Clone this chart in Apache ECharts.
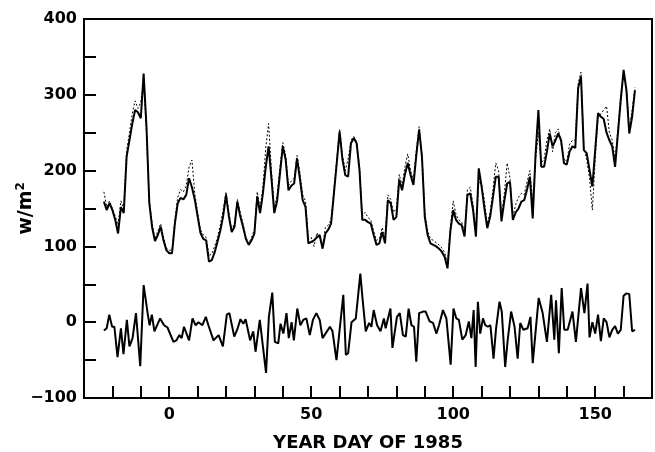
<!DOCTYPE html>
<html>
<head>
<meta charset="utf-8">
<script src="https://cdn.jsdelivr.net/npm/echarts@6/dist/echarts.min.js"></script>
<style>
  html, body { margin: 0; padding: 0; background: #fff; }
  #chart { width: 655px; height: 452px; }
</style>
</head>
<body>
<div id="chart"></div>
<script>
// Daily flux, year day -23 .. 164 of 1985
const dayStart = -23;
const fluxSolid = [
  159, 148, 157, 148, 135, 117, 152, 144, 218, 240, 262, 280, 277, 269, 328, 258, 157, 125, 107, 115,
  126, 108, 95, 91, 91, 130, 157, 164, 162, 168, 190, 178, 162, 140, 118, 110, 108, 80, 82, 92,
  106, 121, 140, 168, 140, 119, 126, 159, 140, 126, 110, 102, 108, 117, 166, 144, 170, 205, 232, 190,
  144, 160, 196, 232, 215, 174, 180, 183, 216, 190, 161, 152, 104, 106, 108, 112, 115, 97, 117, 122,
  130, 170, 210, 251, 215, 194, 192, 236, 243, 236, 201, 135, 135, 132, 130, 115, 102, 104, 119, 104,
  161, 157, 135, 139, 188, 174, 195, 210, 194, 181, 220, 254, 218, 139, 115, 104, 102, 100, 97, 93,
  86, 71, 120, 148, 135, 130, 128, 113, 168, 170, 148, 113, 203, 179, 150, 124, 139, 165, 192, 192,
  133, 160, 183, 185, 135, 145, 150, 159, 161, 175, 192, 137, 221, 280, 205, 205, 225, 249, 232, 240,
  249, 240, 210, 208, 225, 232, 230, 309, 324, 227, 223, 201, 179, 227, 276, 271, 268, 250, 240, 232,
  205, 249, 293, 333, 306, 249, 271, 306
];
const fluxDotted = [
  172, 152, 160, 150, 140, 128, 160, 150, 225, 250, 275, 292, 282, 290, 318, 250, 160, 130, 110, 120,
  130, 112, 98, 95, 95, 135, 165, 175, 172, 180, 205, 214, 170, 145, 122, 115, 112, 88, 90, 100,
  112, 128, 148, 172, 145, 122, 130, 162, 145, 130, 112, 104, 112, 122, 172, 150, 178, 230, 262, 200,
  150, 168, 205, 237, 220, 180, 186, 190, 220, 198, 168, 160, 110, 112, 100, 118, 110, 100, 125, 128,
  135, 175, 215, 255, 220, 200, 215, 240, 245, 238, 205, 140, 145, 138, 135, 120, 108, 110, 125, 112,
  168, 162, 145, 150, 195, 180, 205, 222, 200, 188, 225, 258, 222, 145, 120, 110, 108, 105, 102, 98,
  92, 78, 125, 160, 142, 135, 132, 118, 175, 178, 155, 120, 185, 182, 160, 130, 145, 175, 210, 200,
  140, 170, 210, 190, 140, 155, 165, 170, 168, 185, 200, 160, 215, 250, 210, 215, 240, 255, 225, 250,
  255, 235, 215, 212, 235, 240, 240, 315, 330, 230, 215, 190, 148, 215, 270, 275, 280, 285, 250, 240,
  215, 255, 300, 325, 310, 255, 280, 310
];

// Difference series, read at the days listed
const diffDays = [
  -23, -22, -21.1, -20.1, -19.3, -18.2, -17, -16.1, -14.9, -14, -12.9, -11.7, -10.2, -9, -7.6, -6.9, -6.1, -5.2, -3.2, -1.8,
  -0.6, 1.5, 2.5, 3.6, 4.4, 5.2, 7, 8.2, 9.3, 10.3, 11.7, 12.9, 13.8, 15.6, 17.4, 18.9, 20.3, 21.2, 22.9, 24.1,
  25.1, 26.1, 26.9, 28.5, 29.6, 30.4, 31.9, 34.1, 35.1, 36.3, 37.2, 38.4, 39.2, 40.2, 41.3, 42.1, 43.1, 43.9, 45.1, 46.2,
  47.2, 48.3, 49.5, 50.6, 51.8, 53, 54, 56.6, 57.5, 58.9, 61.3, 62.2, 63, 64.2, 65.7, 67.3, 68, 69.2, 70.4, 71.2,
  72, 73.2, 74.4, 75.6, 76.2, 77.9, 78.6, 80.2, 81.2, 82.3, 83.3, 84.3, 85.3, 86.2, 87, 88, 89.4, 90.3, 91.7, 92.9,
  94.1, 95, 96.4, 97.6, 99.1, 100.1, 101.1, 102, 103.2, 104.4, 105.5, 106.4, 107.2, 107.9, 108.7, 109.5, 110.5, 111.3, 112.2, 113.1,
  114.2, 115.1, 116.3, 117.1, 118.3, 119.2, 120.4, 121.6, 122.7, 123.6, 124.7, 126.2, 127.2, 128, 130.1, 131.5, 133, 134.5, 135.6, 136.2,
  137.2, 138.2, 139.1, 140.3, 140.9, 142, 143.2, 145, 146.2, 147.3, 148, 149, 150, 151, 152, 153, 154, 155, 156, 157,
  158, 159, 160, 161, 162, 163, 164
];
const diffValues = [
  -11, -8, 10, -6, -6, -46, -8, -42, 3, -32, -21, 12, -58, 49, 12, -4, 10, -12, 5, -4,
  -7, -26, -24, -17, -21, -6, -24, 5, -4, 0, -4, 7, -4, -24, -17, -32, 10, 12, -19, -8,
  4, -2, 4, -24, -12, -39, 3, -67, 7, 39, -26, -28, -2, -15, 12, -21, 0, -24, 18, -4,
  3, 5, -17, 3, 12, 3, -21, -6, -12, -50, 36, -43, -41, 0, 5, 64, 34, -12, -1, -6,
  16, -4, -12, 5, -8, 18, -34, 7, 12, -17, -19, 18, -4, -6, -52, 12, 14, 14, 1, -1,
  -15, -4, 16, 5, -56, 18, 5, 3, -23, -17, 1, -21, 16, -59, 27, -15, 5, -4, -6, -4,
  -48, -8, 27, 14, -59, -23, 14, -6, -48, -1, -10, -8, 7, -54, 32, 12, -26, 36, -23, 29,
  -41, 45, -10, -10, -8, 14, -26, 45, 12, 51, -20, 0, -15, 10, -25, 5, 0, -20, -10, -5,
  -15, -10, 35, 38, 37, -12, -10
];

const yTicks = [-100, 0, 100, 200, 300, 400];
const xLabelDays = [0, 50, 100, 150];

const toPairs = (vals) => vals.map((v, i) => [dayStart + i, v]);
const diffPairs = diffDays.map((d, i) => [d, diffValues[i]]);

const FONT = 'DejaVu Sans';
const chart = echarts.init(document.getElementById('chart'), null, { renderer: 'canvas' });

chart.setOption({
  animation: false,
  backgroundColor: '#fff',
  grid: {
    left: 84, right: 3, top: 19, bottom: 54,
    outerBoundsMode: 'none', containLabel: false,
    show: true, borderColor: '#000', borderWidth: 2, backgroundColor: 'transparent'
  },
  xAxis: {
    type: 'value', min: -30, max: 170, interval: 10,
    name: 'YEAR DAY OF 1985', nameLocation: 'middle', nameGap: 36, nameMoveOverlap: false,
    nameTextStyle: { fontFamily: FONT, fontSize: 18, fontWeight: 'bold', color: '#000' },
    axisLine: { show: true, onZero: false, lineStyle: { color: '#000', width: 2 } },
    axisTick: { show: true, inside: true, length: 12, lineStyle: { color: '#000', width: 2 } },
    axisLabel: {
      fontFamily: FONT, fontSize: 16, fontWeight: 'bold', color: '#000', margin: 9,
      showMinLabel: false, showMaxLabel: false,
      formatter: (v) => xLabelDays.includes(v) ? String(v) : ''
    },
    splitLine: { show: false }
  },
  yAxis: {
    type: 'value', min: -100, max: 400, interval: 50,
    name: 'w/m{sup|2}', nameLocation: 'middle', nameGap: 47, nameRotate: 90, nameMoveOverlap: false,
    nameTextStyle: {
      fontFamily: FONT, fontSize: 19, fontWeight: 'bold', color: '#000',
      rich: { sup: { fontFamily: FONT, fontSize: 12, fontWeight: 'bold', color: '#000', verticalAlign: 'top', padding: [0, 0, 10, 0] } }
    },
    axisLine: { show: true, onZero: false, lineStyle: { color: '#000', width: 2 } },
    axisTick: { show: true, inside: true, length: 12, lineStyle: { color: '#000', width: 2 } },
    axisLabel: {
      fontFamily: FONT, fontSize: 16, fontWeight: 'bold', color: '#000', margin: 7,
      formatter: (v) => yTicks.includes(v) ? (v < 0 ? '\u2212' + Math.abs(v) : String(v)) : ''
    },
    splitLine: { show: false }
  },
  series: [
    {
      type: 'line', data: toPairs(fluxSolid), symbol: 'none',
      lineStyle: { color: '#000', width: 2 }, z: 2
    },
    {
      type: 'line', data: toPairs(fluxDotted), symbol: 'none',
      lineStyle: { color: '#000', width: 1, type: [2, 2] }, z: 3
    },
    {
      type: 'line', data: diffPairs, symbol: 'none',
      lineStyle: { color: '#000', width: 2 }, z: 2
    }
  ]
});
</script>
</body>
</html>
